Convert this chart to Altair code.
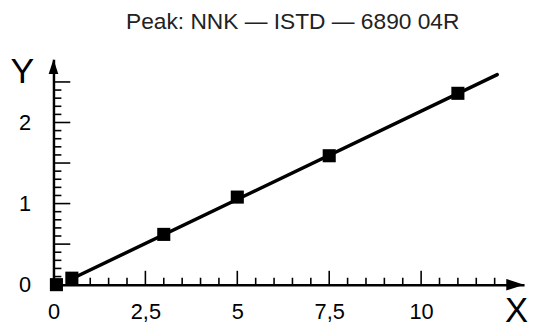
import altair as alt
import pandas as pd

TITLE = "Peak: NNK — ISTD — 6890 04R"

# calibration points
x_vals = [0.08, 0.5, 3.0, 5.0, 7.5, 11.0]
y_vals = [0.0, 0.08, 0.62, 1.08, 1.59, 2.36]

# fitted line end points
fit_x = [0.5, 12.07]
fit_y = [0.073, 2.59]

# axis labels / ticks
x_label_values = [0, 2.5, 5, 7.5, 10]
y_label_values = [0, 1, 2]
x_major_ticks = [2.5, 5, 7.5, 10]
x_minor_ticks = [0.5, 1, 1.5, 2, 3, 3.5, 4, 4.5, 5.5, 6, 6.5, 7,
                 8, 8.5, 9, 9.5, 10.5, 11, 11.5, 12]
y_major_ticks = [0.5, 1, 1.5, 2, 2.5]
y_minor_ticks = [0.1, 0.2, 0.3, 0.4, 0.6, 0.7, 0.8, 0.9, 1.1, 1.2, 1.3, 1.4,
                 1.6, 1.7, 1.8, 1.9, 2.1, 2.2, 2.3, 2.4]

X_MAX = 12.8
Y_MAX = 2.78

W, H = 476, 228
FONT = "Liberation Sans"

xs = alt.Scale(domain=[0, X_MAX], nice=False, zero=False)
ys = alt.Scale(domain=[0, Y_MAX], nice=False, zero=False)

x_axis = alt.Axis(
    values=x_label_values,
    format=".1~f",
    labelExpr="replace(datum.label, '.', ',')",
    ticks=False, grid=False, domain=True, domainColor="black", domainWidth=2.5,
    labelFontSize=22, labelFont=FONT, labelColor="black", labelPadding=17,
    labelFlush=False, labelOverlap=False,
    title="X", titleFontSize=35, titleFont=FONT, titleFontWeight="normal",
    titleColor="black", titleX=468, titleY=37, titleAlign="center",
    titleBaseline="alphabetic",
)
y_axis = alt.Axis(
    values=y_label_values,
    ticks=False, grid=False, domain=True, domainColor="black", domainWidth=2.5,
    labelFontSize=22, labelFont=FONT, labelColor="black", labelPadding=23,
    labelFlush=False, labelOverlap=False,
    title="Y", titleFontSize=36, titleFont=FONT, titleFontWeight="normal",
    titleColor="black", titleAngle=0, titleX=-32, titleY=24, titleAlign="center",
    titleBaseline="alphabetic",
)

X_ENC = alt.X("x:Q", scale=xs, axis=x_axis)
Y_ENC = alt.Y("y:Q", scale=ys, axis=y_axis)

pts = pd.DataFrame({"x": x_vals, "y": y_vals})
fit = pd.DataFrame({"x": fit_x, "y": fit_y})

line = alt.Chart(fit).mark_line(color="black", strokeWidth=3.5, strokeCap="round").encode(
    x=X_ENC, y=Y_ENC,
)

points = alt.Chart(pts).mark_square(size=175, color="black", opacity=1).encode(
    x=X_ENC, y=Y_ENC,
)

def xticks(vals, length):
    df = pd.DataFrame({"x": vals, "y": [0] * len(vals)})
    return alt.Chart(df).mark_tick(
        orient="vertical", size=length, thickness=1.6, color="black",
        opacity=1, yOffset=-length / 2,
    ).encode(x=X_ENC, y=Y_ENC)

def yticks(vals, length):
    df = pd.DataFrame({"x": [0] * len(vals), "y": vals})
    return alt.Chart(df).mark_tick(
        orient="horizontal", size=length, thickness=1.6, color="black",
        opacity=1, xOffset=length / 2,
    ).encode(x=X_ENC, y=Y_ENC)

arrow_x = alt.Chart(pd.DataFrame({"x": [X_MAX], "y": [0]})).mark_point(
    shape="M0,0L-2,-0.65L-2,0.65Z", size=324, filled=True, color="black",
    opacity=1, strokeWidth=0,
).encode(x=X_ENC, y=Y_ENC)
arrow_y = alt.Chart(pd.DataFrame({"x": [0], "y": [Y_MAX]})).mark_point(
    shape="M0,0L0.65,2L-0.65,2Z", size=225, filled=True, color="black",
    opacity=1, strokeWidth=0,
).encode(x=X_ENC, y=Y_ENC)

chart = alt.layer(
    line,
    xticks(x_minor_ticks, 7), xticks(x_major_ticks, 14),
    yticks(y_minor_ticks, 8), yticks(y_major_ticks, 17),
    points, arrow_x, arrow_y,
).properties(
    width=W, height=H,
    title=alt.TitleParams(TITLE, fontSize=23, font=FONT, fontWeight="normal",
                          color="#222222", anchor="middle", frame="group",
                          baseline="alphabetic", offset=3, dx=4),
    autosize=alt.AutoSizeParams(type="none"),
    padding={"left": 46, "top": 50, "right": 6, "bottom": 42},
).configure_view(stroke=None)

chart.save("out.html", embed_options={"renderer": "svg", "actions": False})
